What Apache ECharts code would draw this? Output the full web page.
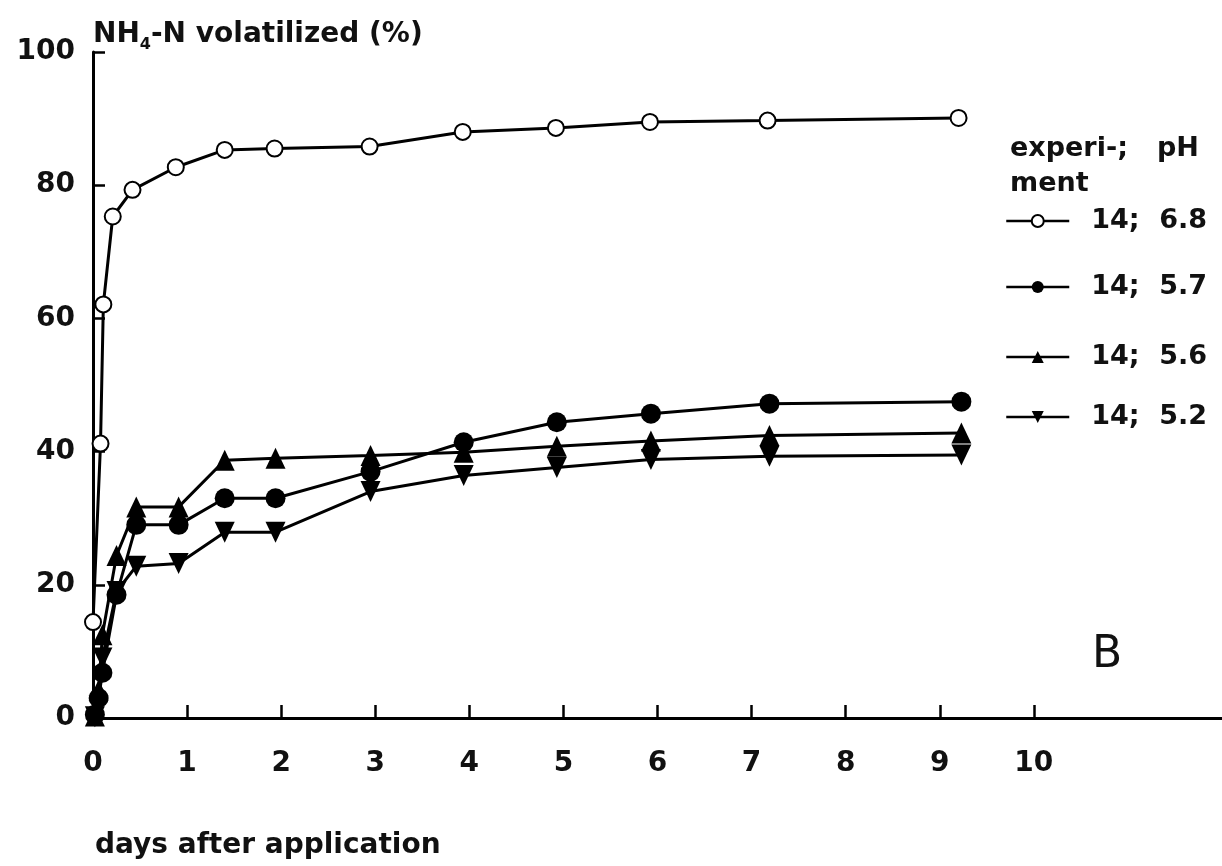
<!DOCTYPE html>
<html>
<head>
<meta charset="utf-8">
<script src="https://cdn.jsdelivr.net/npm/echarts@6/dist/echarts.min.js"></script>
<style>
  html, body { margin: 0; padding: 0; background: #fff; }
  #chart { width: 1222px; height: 866px; }
</style>
</head>
<body>
<div id="chart"></div>
<script>
const FONT = '"DejaVu Sans", "Liberation Sans", sans-serif';
const INK = '#111';

// Sampling times, days after application
const daysPh68 = [0, 0.08, 0.11, 0.21, 0.42, 0.88, 1.4, 1.93, 2.94, 3.93, 4.92, 5.92, 7.17, 9.2];
const daysLow  = [0.02, 0.06, 0.1, 0.25, 0.46, 0.91, 1.4, 1.94, 2.95, 3.94, 4.93, 5.93, 7.19, 9.23];

// NH4-N volatilized (%) per experiment / pH
const volPh68 = [14.4, 41.2, 62.1, 75.3, 79.3, 82.7, 85.3, 85.5, 85.8, 88.0, 88.6, 89.5, 89.7, 90.1];
const volPh57 = [0.5, 3.0, 6.8, 18.5, 29.0, 29.0, 33.0, 33.0, 37.0, 41.4, 44.4, 45.7, 47.2, 47.5];
const volPh56 = [0.3, 4.2, 12.5, 24.4, 31.7, 31.7, 38.7, 39.0, 39.4, 39.9, 40.8, 41.6, 42.4, 42.8];
const volPh52 = [0.2, 1.8, 9.0, 19.0, 22.8, 23.2, 27.9, 27.9, 34.0, 36.4, 37.6, 38.8, 39.3, 39.5];

const experiments = ['14', '14', '14', '14'];
const phValues = ['6.8', '5.7', '5.6', '5.2'];
const xTickValues = [0, 1, 2, 3, 4, 5, 6, 7, 8, 9, 10];

const seriesNames = phValues.map((ph, i) => experiments[i] + '; ' + ph);
const toPairs = (days, vals) => days.map((d, i) => [d, vals[i]]);

const lineStyle = { color: '#000', width: 3 };
const DOWN_TRIANGLE = 'path://M0,0L20,0L10,20Z';

const series = [
  {
    name: seriesNames[0], type: 'line', data: toPairs(daysPh68, volPh68),
    symbol: 'emptyCircle', symbolSize: 16, clip: false, z: 5,
    lineStyle, itemStyle: { color: '#000', borderColor: '#000', borderWidth: 3 }
  },
  {
    name: seriesNames[1], type: 'line', data: toPairs(daysLow, volPh57),
    symbol: 'circle', symbolSize: 20, clip: false, z: 4,
    lineStyle, itemStyle: { color: '#000' }
  },
  {
    name: seriesNames[2], type: 'line', data: toPairs(daysLow, volPh56),
    symbol: 'triangle', symbolSize: [20, 21], clip: false, z: 3,
    lineStyle, itemStyle: { color: '#000' }
  },
  {
    name: seriesNames[3], type: 'line', data: toPairs(daysLow, volPh52),
    symbol: DOWN_TRIANGLE, symbolSize: [20, 21], clip: false, z: 2,
    lineStyle, itemStyle: { color: '#000' }
  }
];

// one legend block per row, rows sit at slightly uneven heights
const legendRowTops = [206, 272, 342, 402];
const legendText = { fontFamily: FONT, fontWeight: 'bold', fontSize: 27, color: INK, lineHeight: 30 };
const legends = seriesNames.map((name, i) => ({
  data: [name],
  left: 1005, top: legendRowTops[i],
  orient: 'vertical', padding: 0, itemGap: 0,
  itemWidth: 63, itemHeight: 15,
  selectedMode: false,
  lineStyle: { width: 2.5 },
  formatter: () => '{a|' + experiments[i] + ';}{b|' + phValues[i] + '}',
  textStyle: Object.assign({}, legendText, {
    rich: {
      a: Object.assign({}, legendText, { width: 68, padding: [0, 0, 0, 17] }),
      b: Object.assign({}, legendText)
    }
  })
}));

const chart = echarts.init(document.getElementById('chart'), null, { renderer: 'canvas' });
chart.setOption({
  animation: false,
  backgroundColor: '#fff',
  grid: { left: 93, right: 0, top: 52, bottom: 148, containLabel: false },
  legend: legends,
  xAxis: {
    type: 'value', min: 0, max: 12, interval: 1,
    axisLine: { lineStyle: { color: '#000', width: 3 } },
    axisTick: { inside: true, length: 13, customValues: xTickValues, lineStyle: { color: '#000', width: 2.5 } },
    axisLabel: {
      customValues: xTickValues, margin: 32,
      fontFamily: FONT, fontWeight: 'bold', fontSize: 28, color: INK
    },
    splitLine: { show: false }
  },
  yAxis: {
    type: 'value', min: 0, max: 100, interval: 20,
    axisLine: { show: true, lineStyle: { color: '#000', width: 3 } },
    axisTick: { show: true, inside: true, length: 12, lineStyle: { color: '#000', width: 2.5 } },
    axisLabel: {
      margin: 18, padding: [5, 0, 0, 0],
      fontFamily: FONT, fontWeight: 'bold', fontSize: 28, color: INK
    },
    splitLine: { show: false }
  },
  graphic: [
    {
      type: 'text', x: 93, y: 35,
      style: {
        text: '{a|NH}{s|4}{a|-N volatilized (%)}',
        verticalAlign: 'middle', align: 'left',
        rich: {
          a: { fontFamily: FONT, fontWeight: 'bold', fontSize: 28, lineHeight: 36, fill: INK },
          s: { fontFamily: FONT, fontWeight: 'bold', fontSize: 16, lineHeight: 16, verticalAlign: 'bottom', fill: INK }
        }
      }
    },
    {
      type: 'text', x: 95, y: 846,
      style: { text: 'days after application', font: 'bold 28px ' + FONT, fill: INK, verticalAlign: 'middle', align: 'left' }
    },
    {
      type: 'text', x: 1010, y: 149,
      style: { text: 'experi-;', font: 'bold 27px ' + FONT, fill: INK, verticalAlign: 'middle', align: 'left' }
    },
    {
      type: 'text', x: 1157, y: 149,
      style: { text: 'pH', font: 'bold 27px ' + FONT, fill: INK, verticalAlign: 'middle', align: 'left' }
    },
    {
      type: 'text', x: 1010, y: 184,
      style: { text: 'ment', font: 'bold 27px ' + FONT, fill: INK, verticalAlign: 'middle', align: 'left' }
    },
    {
      type: 'text', x: 1092, y: 656,
      style: { text: 'B', font: '44px ' + FONT, fill: INK, verticalAlign: 'middle', align: 'left' }
    }
  ],
  series
});
</script>
</body>
</html>
